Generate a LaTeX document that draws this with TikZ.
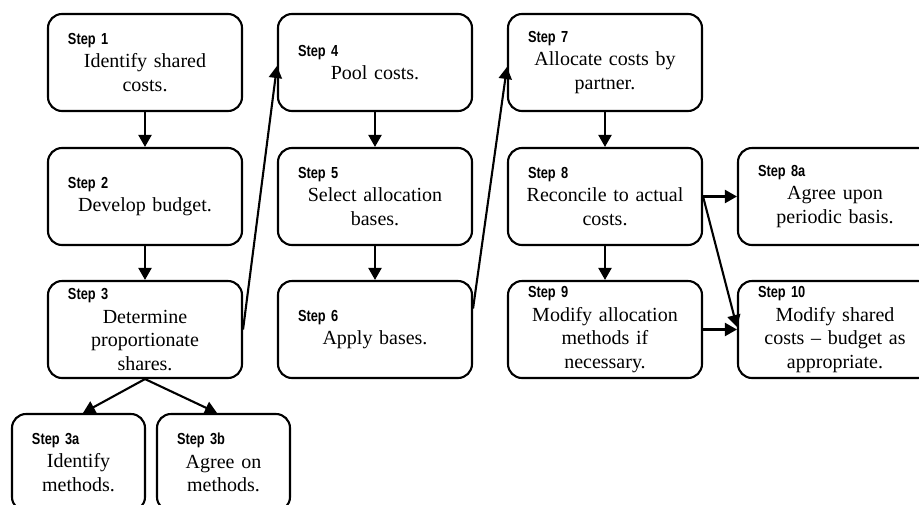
\documentclass[tikz,border=0pt]{standalone}
\usepackage{fontspec}
\usepackage{graphicx}
\setmainfont{Liberation Serif}
\newfontfamily\stepfont{Liberation Sans}
\usetikzlibrary{arrows.meta}
\newcommand{\steplab}[1]{\makebox[\linewidth][l]{\hspace{20pt}\scalebox{0.8}[1]{\stepfont\bfseries\fontsize{16}{18}\selectfont #1}}}
\tikzset{
  stepbox/.style={draw, line width=2.1pt, rounded corners=14pt, minimum height=97pt,
    text width=#1, minimum width=#1, inner sep=0pt, align=center,
    font=\fontsize{20}{23.5}\selectfont},
  stepbox/.default=194pt,
  arr/.style={line width=2.1pt, -{Triangle[length=12pt,width=13pt]}}
}
\begin{document}
\begin{tikzpicture}[x=1pt,y=-1pt]
\useasboundingbox (0,0) rectangle (919,504);
\clip (0,0) rectangle (919,504);
\node[stepbox] (s1) at (145,62.5) {\steplab{Step 1}\\Identify shared\\costs.};
\node[stepbox] (s2) at (145,196.5) {\steplab{Step 2}\\Develop budget.};
\node[stepbox] (s3) at (145,329.5) {\steplab{Step 3}\\Determine\\proportionate\\shares.};
\node[stepbox=133pt] (s3a) at (78.5,462.5) {\steplab{Step 3a}\\Identify\\methods.};
\node[stepbox=133pt] (s3b) at (223.5,462.5) {\steplab{Step 3b}\\Agree on\\methods.};
\node[stepbox] (s4) at (375,62.5) {\steplab{Step 4}\\Pool costs.};
\node[stepbox] (s5) at (375,196.5) {\steplab{Step 5}\\Select allocation\\bases.};
\node[stepbox] (s6) at (375,329.5) {\steplab{Step 6}\\Apply bases.};
\node[stepbox] (s7) at (605,62.5) {\steplab{Step 7}\\Allocate costs by\\partner.};
\node[stepbox] (s8) at (605,196.5) {\steplab{Step 8}\\Reconcile to actual\\costs.};
\node[stepbox] (s9) at (605,329.5) {\steplab{Step 9}\\Modify allocation\\methods if\\necessary.};
\node[stepbox] (s8a) at (835,196.5) {\steplab{Step 8a}\\Agree upon\\periodic basis.};
\node[stepbox] (s10) at (835,329.5) {\steplab{Step 10}\\Modify shared\\costs – budget as\\appropriate.};
\draw[arr] (s1.south) -- (s2.north);
\draw[arr] (s2.south) -- (s3.north);
\draw[arr] (s3.south) -- ([xshift=4.5pt]s3a.north);
\draw[arr] (s3.south) -- ([xshift=-6.5pt]s3b.north);
\draw[arr] (s3.east) -- ([yshift=-3.5pt]s4.west);
\draw[arr] (s4.south) -- (s5.north);
\draw[arr] (s5.south) -- (s6.north);
\draw[arr] ([yshift=21pt]s6.east) -- ([yshift=-4.5pt]s7.west);
\draw[arr] (s7.south) -- (s8.north);
\draw[arr] (s8.south) -- (s9.north);
\draw[arr] (s8.east) -- (s8a.west);
\draw[arr] (s8.east) -- ([yshift=2.5pt]s10.west);
\draw[arr] (s9.east) -- (s10.west);
\end{tikzpicture}
\end{document}
